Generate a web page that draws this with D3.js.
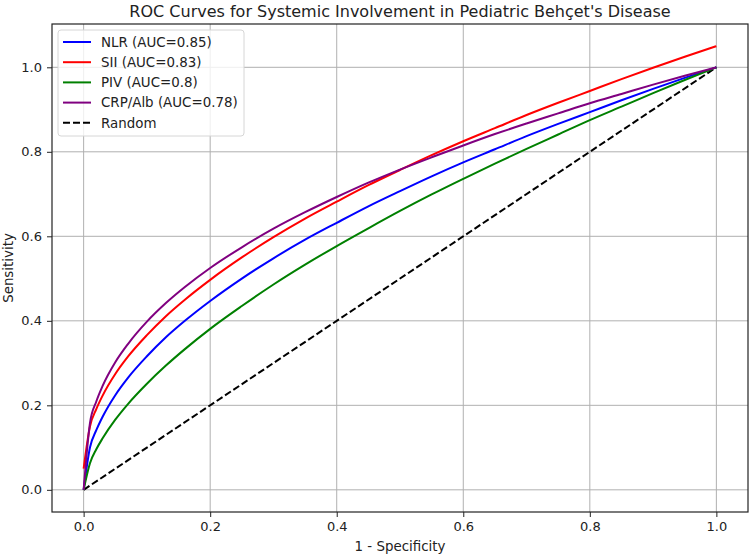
<!DOCTYPE html>
<html lang="en">
<head>
<meta charset="UTF-8">
<title>ROC Curves</title>
<script src="https://cdn.jsdelivr.net/npm/d3@7"></script>
<style>
  body { margin: 0; background: #fff; }
  text { font-family: "DejaVu Sans", sans-serif; fill: #222; }
</style>
</head>
<body>
<div id="chart"></div>
<script>
// values
const fpr = [0, 0.01, 0.02, 0.03, 0.05, 0.07, 0.1, 0.13, 0.16, 0.2, 0.25, 0.3, 0.35, 0.4,
             0.45, 0.5, 0.55, 0.6, 0.65, 0.7, 0.75, 0.8, 0.85, 0.9, 0.95, 1.0];
const nlr = [0, 0.100, 0.141, 0.173, 0.224, 0.265, 0.316, 0.361, 0.400, 0.447, 0.500, 0.548, 0.592,
             0.632, 0.671, 0.707, 0.742, 0.775, 0.806, 0.837, 0.866, 0.894, 0.922, 0.949, 0.975, 1.000];
const sii = [0.05, 0.150, 0.191, 0.223, 0.274, 0.315, 0.366, 0.411, 0.450, 0.497, 0.550, 0.598, 0.642,
             0.682, 0.721, 0.757, 0.792, 0.825, 0.856, 0.887, 0.916, 0.944, 0.972, 0.999, 1.025, 1.050];
const piv = [0, 0.063, 0.096, 0.122, 0.166, 0.203, 0.251, 0.294, 0.333, 0.381, 0.435, 0.486, 0.533,
             0.577, 0.619, 0.660, 0.699, 0.736, 0.772, 0.807, 0.841, 0.875, 0.907, 0.939, 0.970, 1.000];
const crpAlb = [0, 0.158, 0.209, 0.246, 0.302, 0.345, 0.398, 0.442, 0.480, 0.525, 0.574, 0.618, 0.657,
                0.693, 0.727, 0.758, 0.787, 0.815, 0.842, 0.867, 0.891, 0.915, 0.937, 0.959, 0.980, 1.000];
const randomX = [0, 1];
const randomY = [0, 1];

const seriesNames = ["NLR (AUC=0.85)", "SII (AUC=0.83)", "PIV (AUC=0.8)", "CRP/Alb (AUC=0.78)"];
const seriesValues = [nlr, sii, piv, crpAlb];
const seriesColors = ["#0000ff", "#ff0000", "#008000", "#800080"];
const ticks = [0, 0.2, 0.4, 0.6, 0.8, 1.0];

const width = 750, height = 556;
const margin = {top: 24, right: 2, bottom: 44, left: 52};

const svg = d3.select("#chart").append("svg")
    .attr("width", width)
    .attr("height", height);

const x = d3.scaleLinear().domain([-0.05, 1.05]).range([margin.left, width - margin.right]);
const y = d3.scaleLinear().domain([-0.0525, 1.1025]).range([height - margin.bottom, margin.top]);

// grid
const grid = svg.append("g");
grid.selectAll(".gx").data(ticks).join("line")
    .attr("x1", d => x(d)).attr("x2", d => x(d))
    .attr("y1", margin.top).attr("y2", height - margin.bottom)
    .attr("stroke", "#b0b0b0").attr("stroke-width", 1);
grid.selectAll(".gy").data(ticks).join("line")
    .attr("x1", margin.left).attr("x2", width - margin.right)
    .attr("y1", d => y(d)).attr("y2", d => y(d))
    .attr("stroke", "#b0b0b0").attr("stroke-width", 1);

// axes
const xAxis = svg.append("g")
    .attr("transform", `translate(0,${height - margin.bottom})`)
    .call(d3.axisBottom(x).tickValues(ticks).tickFormat(d3.format(".1f")).tickSizeOuter(0).tickSize(5).tickPadding(5));
const yAxis = svg.append("g")
    .attr("transform", `translate(${margin.left},0)`)
    .call(d3.axisLeft(y).tickValues(ticks).tickFormat(d3.format(".1f")).tickSizeOuter(0).tickSize(5).tickPadding(5));
[xAxis, yAxis].forEach(a => {
  a.select(".domain").remove();
  a.selectAll("text").style("font-size", "13px").attr("fill", "#222");
  a.selectAll(".tick line").attr("stroke", "#222");
});

// lines
const line = d3.line()
    .x((d, i) => x(fpr[i]))
    .y(d => y(d))
    .curve(d3.curveMonotoneX);

svg.append("path")
    .attr("d", d3.line().x(d => x(d[0])).y(d => y(d[1]))(randomX.map((v, i) => [v, randomY[i]])))
    .attr("fill", "none")
    .attr("stroke", "#000")
    .attr("stroke-width", 2)
    .attr("stroke-dasharray", "7,3");

seriesValues.forEach((vals, k) => {
  svg.append("path")
      .attr("d", line(vals))
      .attr("fill", "none")
      .attr("stroke", seriesColors[k])
      .attr("stroke-width", 2);
});

// frame
svg.append("rect")
    .attr("x", margin.left).attr("y", margin.top)
    .attr("width", width - margin.left - margin.right)
    .attr("height", height - margin.top - margin.bottom)
    .attr("fill", "none").attr("stroke", "#222").attr("stroke-width", 1.2);

// title and labels
svg.append("text")
    .attr("x", (margin.left + width - margin.right) / 2)
    .attr("y", 17)
    .attr("text-anchor", "middle")
    .style("font-size", "16px")
    .text("ROC Curves for Systemic Involvement in Pediatric Behçet's Disease");

svg.append("text")
    .attr("x", (margin.left + width - margin.right) / 2)
    .attr("y", 551)
    .attr("text-anchor", "middle")
    .style("font-size", "13.4px")
    .text("1 - Specificity");

svg.append("text")
    .attr("transform", `translate(13,${(margin.top + height - margin.bottom) / 2}) rotate(-90)`)
    .attr("text-anchor", "middle")
    .style("font-size", "13.4px")
    .text("Sensitivity");

// legend
const legendNames = seriesNames.concat(["Random"]);
const legendColors = seriesColors.concat(["#000"]);
const legend = svg.append("g").attr("transform", "translate(58,30)");
legend.append("rect")
    .attr("width", 186).attr("height", 106)
    .attr("rx", 3)
    .attr("fill", "#fff").attr("fill-opacity", 0.8)
    .attr("stroke", "#d6d6d6");
legendNames.forEach((name, i) => {
  const gy = 12 + i * 20.2;
  legend.append("line")
      .attr("x1", 5).attr("x2", 33).attr("y1", gy).attr("y2", gy)
      .attr("stroke", legendColors[i]).attr("stroke-width", 2)
      .attr("stroke-dasharray", i === 4 ? "7,3" : null);
  legend.append("text")
      .attr("x", 43).attr("y", gy + 4.8)
      .style("font-size", "13.4px")
      .text(name);
});
</script>
</body>
</html>
